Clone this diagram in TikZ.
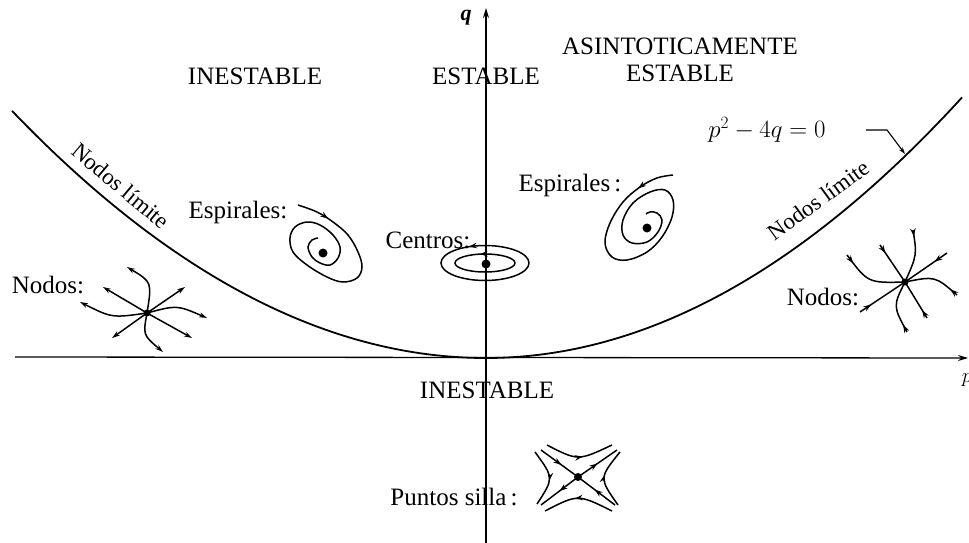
\documentclass[tikz,border=0pt]{standalone}
\usepackage{fontspec}
\setmainfont{Liberation Serif}
\usetikzlibrary{arrows.meta,decorations.markings}
\begin{document}
\begin{tikzpicture}[x=1pt,y=-1pt,
  lbl/.style={font=\fontsize{25}{27}\selectfont, inner sep=0pt},
  slbl/.style={font=\fontsize{23}{25}\selectfont, inner sep=0pt},
  axis/.style={line width=1.3pt},
  curve/.style={line width=1.8pt},
  traj/.style={line width=1.5pt},
  tip/.style={-{Stealth[length=8pt,width=5pt]}},
  midarrow/.style={postaction={decorate},decoration={markings,mark=at position #1 with {\arrow{Stealth[length=8pt,width=5.5pt]}}}},
]
\useasboundingbox (0,0) rectangle (969,543);
% axes
\coordinate (O) at (486,358);
\coordinate (qtop) at (486,8);
\coordinate (qbot) at (486,543);
\coordinate (pleft) at (15,357);
\coordinate (pright) at (968,358);
\draw[axis,-{Stealth[length=10pt,width=6pt]}] (qbot) -- (qtop);
\draw[axis,-{Stealth[length=10pt,width=6pt]}] (pleft) -- (pright);
\node (q) at (466,18) {\fontsize{22}{24}\selectfont\bfseries\itshape q};
\node (p) at (967,380) {\fontsize{22}{24}\selectfont$p$};
% parabola
\draw[curve] plot[domain=12:486, samples=80] (\x, {358 - 11*((\x-486)/100)^2});
\draw[curve] plot[domain=486:962, samples=80] (\x, {358 - 11.5*((\x-486)/100)^2});
% labels
\node[lbl] (inest1) at (255,76) {INESTABLE};
\node[lbl] (est) at (486,76) {ESTABLE};
\node[lbl, align=center] (asin) at (680,60) {ASINTOTICAMENTE\\ESTABLE};
\node[lbl] (eq) at (767,130) {$p^2-4q=0$};
\coordinate (eqa) at (866,130);
\coordinate (eqb) at (887,130);
\coordinate (eqc) at (905,154);
\draw[line width=1.1pt,-{Stealth[length=7pt,width=4.5pt]}] (eqa) -- (eqb) -- (eqc);
\node[lbl] (inest2) at (487,390) {INESTABLE};
\node[lbl] (ps) at (454,497) {Puntos silla\,:};
\node[lbl] (esp1) at (238,212) {Espirales:};
\node[lbl] (esp2) at (570,185) {Espirales\,:};
\node[lbl] (cen) at (428,240) {Centros:};
\node[lbl] (nod1) at (48,285) {Nodos:};
\node[lbl] (nod2) at (823,297) {Nodos:};
\node[slbl, rotate=-40] (nl1) at (121,186) {Nodos límite};
\node[slbl, rotate=36] (nl2) at (818,200) {Nodos límite};
% left spiral
\fill (323,253) circle (4.5pt);
\draw[traj, midarrow=0.1] plot[smooth, tension=0.6] coordinates {(298,205) (317,212) (333,222) (348,235) (358,252) (362,267) (357,278) (343,282) (327,277) (307,265) (293,252) (290,238) (295,227) (307,222) (320,225) (333,235) (340,247) (338,258) (330,265) (320,263) (312,257) (308,247) (312,240) (318,238)};
% right spiral
\fill (647,228) circle (4.5pt);
\draw[traj, midarrow=0.1] plot[smooth, tension=0.6] coordinates {(673,175) (657,178) (640,187) (623,202) (610,223) (605,243) (612,257) (627,260) (647,252) (662,237) (672,217) (673,200) (665,190) (650,192) (633,203) (623,220) (623,235) (632,243) (647,242) (658,232) (662,220) (657,213) (650,212) (646,214)};
% centres
\coordinate (CN) at (485,263);
\fill (486,264) circle (4.5pt);
\draw[traj, midarrow=0.33] (CN) ++(44,0) arc[start angle=0, end angle=-360, x radius=44, y radius=17.5];
\draw[traj, midarrow=0.29] (CN) ++(30,0) arc[start angle=0, end angle=-360, x radius=30, y radius=9];
% left node (unstable)
\coordinate (LN) at (147,313);
\fill (LN) circle (3.5pt);
\draw[traj,tip] (LN) -- (103,287);
\draw[traj,tip] (LN) -- (185,287);
\draw[traj,tip] (LN) -- (192,338);
\draw[traj,tip] (LN) -- (112,338);
\draw[traj,tip] (LN) .. controls (152,282) .. (127,267);
\draw[traj,tip] (LN) .. controls (112,318) .. (80,302);
\draw[traj,tip] (LN) .. controls (177,305) .. (207,318);
\draw[traj,tip] (LN) .. controls (143,335) .. (163,352);
% right node (stable)
\coordinate (RN) at (905,282);
\fill (RN) circle (3.5pt);
\draw[traj, midarrow=0.22] (880,245) -- (RN);
\draw[traj, midarrow=0.22] (927,318) -- (RN);
\draw[traj, midarrow=0.3] (947,253) -- (RN);
\draw[traj, midarrow=0.25] (860,312) -- (RN);
\draw[traj, midarrow=0.12] (913,230) .. controls (917,255) .. (RN);
\draw[traj, midarrow=0.15] (847,255) .. controls (868,283) .. (RN);
\draw[traj, midarrow=0.15] (957,295) .. controls (935,276) .. (RN);
\draw[traj, midarrow=0.15] (907,332) .. controls (893,306) .. (RN);
% saddle
\coordinate (SN) at (578,477);
\fill (SN) circle (4pt);
\draw[traj, midarrow=0.55] (541,450) -- (SN);
\draw[traj, midarrow=0.55] (615,505) -- (SN);
\draw[traj, midarrow=0.5] (SN) -- (617,450);
\draw[traj, midarrow=0.5] (SN) -- (541,505);
\draw[traj, midarrow=0.55] (547,445) .. controls (578,461) .. (612,445);
\draw[traj, midarrow=0.55] (612,511) .. controls (578,494) .. (545,511);
\draw[traj, midarrow=0.55] (535,452) .. controls (554,478) .. (537,504);
\draw[traj, midarrow=0.55] (618,505) .. controls (599,478) .. (620,452);
\end{tikzpicture}
\end{document}
